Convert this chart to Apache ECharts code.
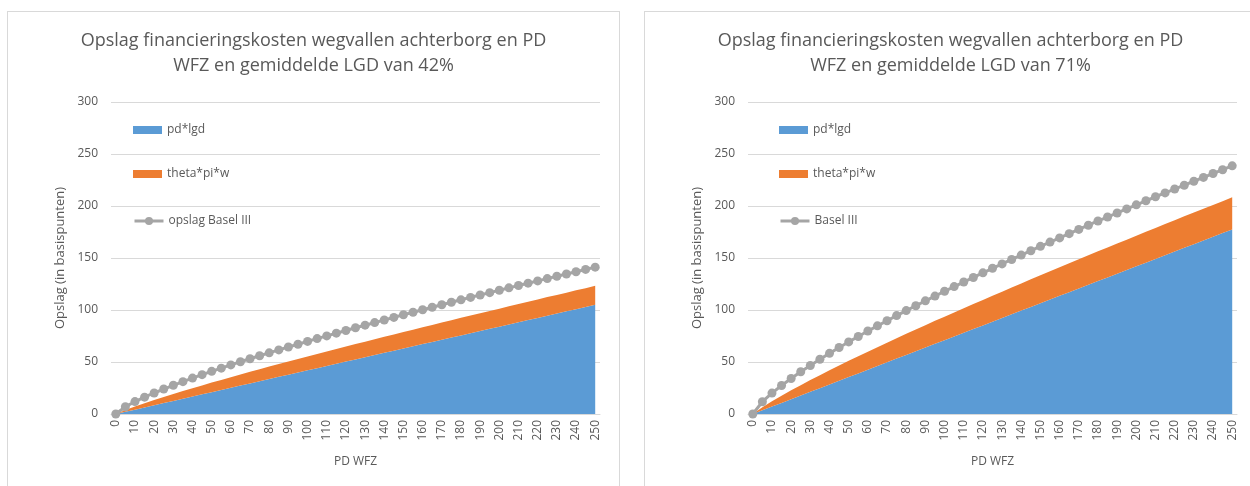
<!DOCTYPE html>
<html>
<head>
<meta charset="utf-8">
<script src="https://cdn.jsdelivr.net/npm/echarts@6/dist/echarts.min.js"></script>
<style>
html, body { margin: 0; padding: 0; background: #fff; overflow: hidden; width: 1250px; height: 486px; }
.panel { position: absolute; top: 11px; width: 611px; height: 500px; border: 1px solid #d9d9d9; background: #fff; }
#left { left: 7px; }
#right { left: 644px; }
</style>
</head>
<body>
<div id="left" class="panel"></div>
<div id="right" class="panel"></div>
<script>
// PD WFZ (basispunten), stap 5
var pdWfz = ['0', '5', '10', '15', '20', '25', '30', '35', '40', '45', '50', '55', '60', '65', '70', '75', '80', '85', '90', '95',
    '100', '105', '110', '115', '120', '125', '130', '135', '140', '145', '150', '155', '160', '165', '170', '175', '180', '185', '190', '195',
    '200', '205', '210', '215', '220', '225', '230', '235', '240', '245', '250'];
var yTicks = [0, 50, 100, 150, 200, 250, 300];

// LGD 42%
var pdLgd42 = [0, 2.1, 4.2, 6.3, 8.4, 10.5, 12.6, 14.7, 16.8, 18.9, 21, 23.1, 25.2, 27.3, 29.4, 31.5, 33.6, 35.7, 37.8, 39.9,
    42, 44.1, 46.2, 48.3, 50.4, 52.5, 54.6, 56.7, 58.8, 60.9, 63, 65.1, 67.2, 69.3, 71.4, 73.5, 75.6, 77.7, 79.8, 81.9,
    84, 86.1, 88.2, 90.3, 92.4, 94.5, 96.6, 98.7, 100.8, 102.9, 105];
var theta42 = [0, 1.8, 3.1, 4.1, 5.1, 5.9, 6.7, 7.4, 8.0, 8.6, 9.2, 9.7, 10.2, 10.7, 11.2, 11.6, 12.0, 12.3, 12.7, 13.0,
    13.3, 13.6, 13.9, 14.2, 14.5, 14.7, 14.9, 15.2, 15.4, 15.6, 15.8, 16.0, 16.2, 16.3, 16.5, 16.7, 16.9, 17.0, 17.1, 17.2,
    17.3, 17.5, 17.6, 17.7, 17.8, 17.9, 17.9, 18.0, 18.1, 18.1, 18.2];
var basel42 = [0, 7.0, 11.9, 16.2, 20.2, 24.0, 27.6, 31.1, 34.5, 37.8, 41.0, 44.1, 47.2, 50.2, 53.1, 56.0, 58.8, 61.6, 64.4, 67.1,
    69.8, 72.5, 75.1, 77.7, 80.3, 82.9, 85.4, 87.9, 90.4, 92.9, 95.4, 97.8, 100.2, 102.6, 105.0, 107.4, 109.8, 112.1, 114.4, 116.7,
    119.0, 121.3, 123.6, 125.8, 128.0, 130.2, 132.4, 134.6, 136.8, 139.0, 141.2];

// LGD 71%
var pdLgd71 = [0, 3.55, 7.1, 10.65, 14.2, 17.75, 21.3, 24.85, 28.4, 31.95, 35.5, 39.05, 42.6, 46.15, 49.7, 53.25, 56.8, 60.35, 63.9, 67.45,
    71, 74.55, 78.1, 81.65, 85.2, 88.75, 92.3, 95.85, 99.4, 102.95, 106.5, 110.05, 113.6, 117.15, 120.7, 124.25, 127.8, 131.35, 134.9, 138.45,
    142, 145.55, 149.1, 152.65, 156.2, 159.75, 163.3, 166.85, 170.4, 173.95, 177.5];
var theta71 = [0, 3.0, 5.2, 7.0, 8.6, 10.0, 11.3, 12.5, 13.6, 14.6, 15.6, 16.5, 17.3, 18.1, 18.9, 19.6, 20.3, 20.9, 21.5, 22.1,
    22.6, 23.1, 23.6, 24.1, 24.5, 24.9, 25.3, 25.7, 26.1, 26.5, 26.8, 27.1, 27.4, 27.7, 28.0, 28.3, 28.6, 28.8, 29.0, 29.2,
    29.4, 29.6, 29.8, 30.0, 30.2, 30.3, 30.4, 30.5, 30.6, 30.7, 30.8];
var basel71 = [0, 11.8, 20.1, 27.4, 34.1, 40.6, 46.6, 52.6, 58.3, 63.9, 69.3, 74.5, 79.8, 84.8, 89.7, 94.6, 99.4, 104.1, 108.8, 113.4,
    118.0, 122.5, 126.9, 131.3, 135.7, 140.1, 144.3, 148.6, 152.8, 157.0, 161.2, 165.3, 169.3, 173.4, 177.5, 181.5, 185.6, 189.4, 193.3, 197.2,
    201.1, 205.0, 208.9, 212.6, 216.3, 220.0, 223.8, 227.5, 231.2, 234.9, 238.6];

var fontName = '"Open Sans", "Noto Sans", sans-serif';
var textGrey = '#595959';
var lineGrey = '#d9d9d9';

/**
 * opslagChart() gestapeld vlak + lijn
 */
function opslagChart(id, title, baselName, blueData, orangeData, greyData, legendLeft) {
    var myChart = echarts.init(document.getElementById(id));
    var legendText = { color: textGrey, fontSize: 12, fontFamily: fontName };
    var option = {
        animation: false,
        textStyle: { fontFamily: fontName },
        title: {
            text: title,
            left: 'center',
            top: 11,
            textStyle: {
                color: textGrey,
                fontSize: 18,
                fontWeight: 'normal',
                lineHeight: 25,
                fontFamily: fontName
            }
        },
        legend: [{
            orient: 'vertical',
            left: legendLeft,
            top: 112,
            padding: 0,
            itemWidth: 29,
            itemHeight: 8,
            itemGap: 32,
            textStyle: legendText,
            data: [
                { name: 'pd*lgd', icon: 'rect' },
                { name: 'theta*pi*w', icon: 'rect' }
            ]
        }, {
            // grijze lijn apart, zodat de cirkel groter kan
            orient: 'vertical',
            left: legendLeft,
            top: 203,
            padding: 0,
            itemWidth: 29,
            itemHeight: 10,
            textStyle: legendText,
            data: [{ name: baselName, lineStyle: { width: 3 } }]
        }],
        grid: {
            left: 103,
            top: 90,
            width: 489,
            height: 312
        },
        xAxis: {
            type: 'category',
            data: pdWfz,
            boundaryGap: true,
            name: 'PD WFZ',
            nameLocation: 'middle',
            nameGap: 42,
            nameTextStyle: { color: textGrey, fontSize: 12 },
            axisLine: { lineStyle: { color: lineGrey, width: 1 } },
            axisTick: { interval: 0, length: 5, lineStyle: { color: lineGrey } },
            axisLabel: {
                interval: 1,
                rotate: 90,
                margin: 6,
                color: textGrey,
                fontSize: 12
            }
        },
        yAxis: {
            type: 'value',
            min: yTicks[0],
            max: yTicks[yTicks.length - 1],
            interval: yTicks[1] - yTicks[0],
            name: 'Opslag (in basispunten)',
            nameLocation: 'middle',
            nameGap: 44,
            nameTextStyle: { color: textGrey, fontSize: 13 },
            axisLine: { show: false },
            axisTick: { show: false },
            axisLabel: { color: textGrey, fontSize: 12, margin: 13 },
            splitLine: { lineStyle: { color: lineGrey, width: 1 } }
        },
        series: [{
            name: 'pd*lgd',
            type: 'line',
            stack: 'opslag',
            data: blueData,
            symbol: 'none',
            lineStyle: { width: 0 },
            itemStyle: { color: '#5b9bd5' },
            areaStyle: { color: '#5b9bd5', opacity: 1 }
        }, {
            name: 'theta*pi*w',
            type: 'line',
            stack: 'opslag',
            data: orangeData,
            symbol: 'none',
            lineStyle: { width: 0 },
            itemStyle: { color: '#ed7d31' },
            areaStyle: { color: '#ed7d31', opacity: 1 }
        }, {
            name: baselName,
            type: 'line',
            data: greyData,
            symbol: 'circle',
            symbolSize: 9,
            showAllSymbol: true,
            lineStyle: { color: '#a5a5a5', width: 3 },
            itemStyle: { color: '#a5a5a5' }
        }]
    };
    myChart.setOption(option);
}

opslagChart('left', 'Opslag financieringskosten wegvallen achterborg en PD\nWFZ en gemiddelde LGD van 42%',
    'opslag Basel III', pdLgd42, theta42, basel42, 125);
opslagChart('right', 'Opslag financieringskosten wegvallen achterborg en PD\nWFZ en gemiddelde LGD van 71%',
    'Basel III', pdLgd71, theta71, basel71, 134);
</script>
</body>
</html>
